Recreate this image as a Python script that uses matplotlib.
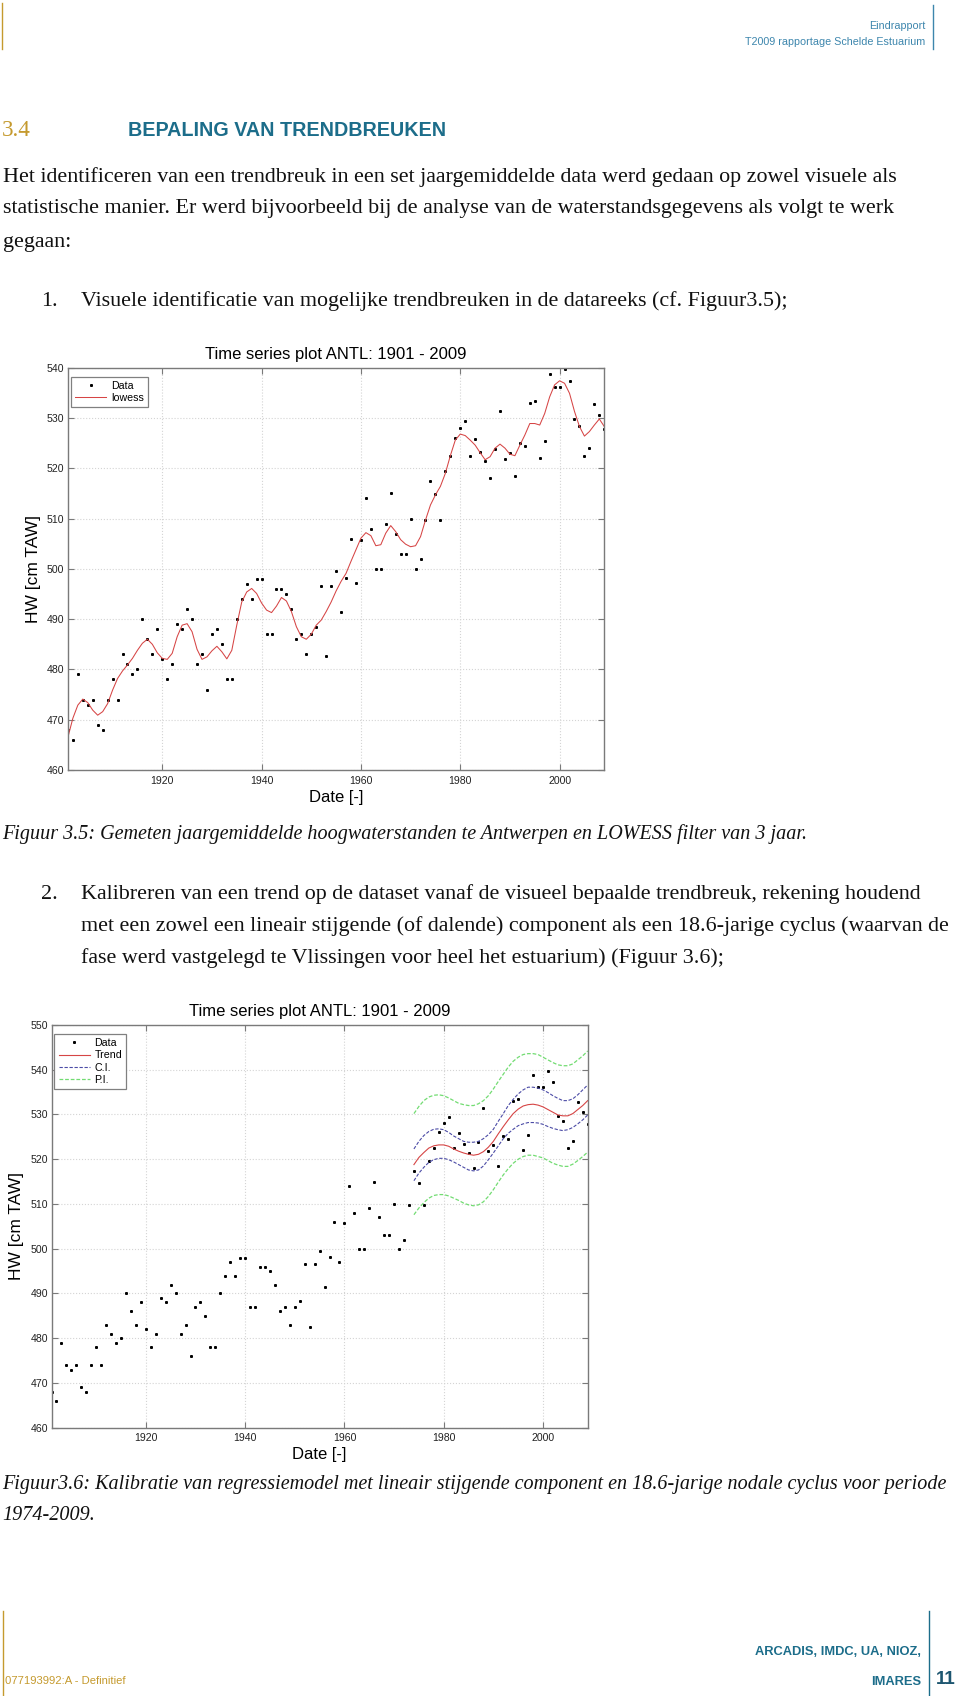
import matplotlib
matplotlib.use('Agg')
import matplotlib.pyplot as plt
from matplotlib.lines import Line2D

# ---------------- data ----------------
years = list(range(1901, 2010))
hw = [468.0, 466.0, 479.0, 474.0, 473.0, 474.0, 469.0, 468.0, 474.0, 478.0,
      474.0, 483.0, 481.0, 479.0, 480.0, 490.0, 486.0, 483.0, 488.0, 482.0,
      478.0, 481.0, 489.0, 488.0, 492.0, 490.0, 481.0, 483.0, 476.0, 487.0,
      488.0, 485.0, 478.0, 478.0, 490.0, 494.0, 497.0, 494.0, 498.0, 498.0,
      487.0, 487.0, 496.0, 496.0, 495.0, 492.0, 486.0, 487.0, 483.0, 487.0,
      488.4, 496.5, 482.6, 496.5, 499.6, 491.4, 498.1, 505.9, 497.1, 505.7,
      514.0, 507.9, 500.0, 500.0, 509.0, 515.0, 507.0, 503.0, 503.0, 510.0,
      500.0, 502.0, 509.7, 517.4, 514.8, 509.7, 519.5, 522.4, 526.1, 528.1,
      529.5, 522.5, 525.9, 523.3, 521.5, 518.1, 523.8, 531.4, 521.8, 523.1,
      518.5, 525.1, 524.5, 533.0, 533.4, 522.0, 525.5, 538.8, 536.1, 536.2,
      539.7, 537.3, 529.7, 528.5, 522.5, 524.0, 532.8, 530.6, 527.9]
lowess = [466.5, 470.3, 472.9, 474.1, 473.4, 471.9, 470.9, 471.6, 473.2, 475.9,
          478.2, 479.7, 480.9, 482.2, 483.8, 485.2, 486.0, 485.0, 483.3, 482.2,
          482.0, 483.2, 486.5, 488.8, 489.1, 487.5, 484.0, 482.0, 482.5, 483.7,
          484.6, 483.5, 482.1, 483.8, 488.8, 493.4, 495.4, 496.1, 495.1, 493.2,
          491.8, 491.3, 492.6, 494.3, 493.6, 491.5, 488.5, 486.5, 486.0, 487.0,
          488.8, 489.8, 491.5, 493.4, 495.6, 497.5, 499.1, 501.5, 503.8, 506.1,
          507.2, 506.6, 504.6, 504.8, 507.1, 508.6, 507.4, 505.8, 504.9, 504.4,
          504.6, 506.4, 509.7, 512.7, 514.7, 516.4, 519.0, 522.5, 525.6, 526.8,
          526.5, 525.6, 524.6, 523.1, 521.7, 522.3, 524.0, 524.8, 524.0, 522.8,
          522.5, 524.6, 526.6, 528.9, 528.9, 528.6, 530.9, 534.2, 536.6, 537.4,
          536.9, 534.9, 531.3, 528.3, 526.4, 527.3, 528.6, 529.8, 528.3]

trend_years = list(range(1974, 2010))
trend = [518.8, 520.4, 521.5, 522.5, 523.0, 523.2, 523.2, 522.9, 522.3, 521.8,
         521.4, 521.1, 520.9, 521.1, 521.7, 522.7, 524.0, 525.7, 527.3, 528.8,
         530.2, 531.2, 531.9, 532.2, 532.3, 532.1, 531.7, 531.1, 530.5, 529.9,
         529.7, 529.7, 530.2, 531.1, 532.0, 533.1]
ci_up = [522.3, 524.0, 525.3, 526.2, 526.7, 526.8, 526.6, 526.0, 525.2, 524.6,
         524.0, 523.8, 523.8, 524.0, 524.6, 525.5, 526.7, 528.5, 530.2, 532.0,
         533.4, 534.6, 535.5, 536.1, 536.1, 535.9, 535.5, 534.9, 534.2, 533.6,
         533.1, 533.1, 533.5, 534.4, 535.5, 536.6]
ci_lo = [515.2, 516.9, 518.2, 519.3, 519.9, 520.2, 520.2, 519.9, 519.4, 518.8,
         518.2, 517.6, 517.4, 517.6, 518.5, 519.9, 521.4, 523.0, 524.6, 525.8,
         526.7, 527.5, 527.9, 528.2, 528.2, 528.1, 527.8, 527.3, 526.9, 526.6,
         526.4, 526.6, 527.1, 527.9, 528.8, 529.9]
pi_up = [530.2, 531.8, 533.1, 533.9, 534.3, 534.4, 534.2, 533.7, 533.1, 532.5,
         532.2, 532.0, 532.0, 532.4, 533.1, 534.2, 535.7, 537.4, 539.0, 540.6,
         541.9, 542.8, 543.4, 543.6, 543.6, 543.4, 542.8, 542.2, 541.6, 541.1,
         540.9, 540.9, 541.3, 542.2, 543.1, 544.2]
pi_lo = [507.6, 509.1, 510.3, 511.3, 511.9, 512.1, 512.1, 511.8, 511.3, 510.8,
         510.2, 509.8, 509.6, 509.8, 510.5, 511.7, 513.2, 514.9, 516.5, 517.9,
         519.1, 520.0, 520.6, 520.9, 520.9, 520.6, 520.3, 519.7, 519.1, 518.7,
         518.4, 518.4, 518.9, 519.7, 520.6, 521.6]

xticks = [1920, 1940, 1960, 1980, 2000]
yticks1 = [460, 470, 480, 490, 500, 510, 520, 530, 540]
yticks2 = [460, 470, 480, 490, 500, 510, 520, 530, 540, 550]

# ---------------- page ----------------
plt.rcParams['font.family'] = ['Liberation Sans', 'DejaVu Sans']
W, H = 960, 1696
fig = plt.figure(figsize=(9.6, 16.96), dpi=100)
fig.patch.set_facecolor('white')
renderer = fig.canvas.get_renderer()

GOLD = '#c59a2e'
TEAL = '#1c6d8a'
LBLUE = '#3d86ad'
SERIF = ['Liberation Serif', 'DejaVu Serif']
SANS = ['Liberation Sans', 'DejaVu Sans']


def fx(x):
    return x / W


def fy(y):
    return 1 - y / H


def fit(s, target, base=12, **kw):
    t = fig.text(0, 0, s, fontsize=base, **kw)
    w = t.get_window_extent(renderer).width
    t.remove()
    return base * target / w


def vline(x, y0, y1, color, lw=1.0):
    fig.add_artist(Line2D([fx(x), fx(x)], [fy(y0), fy(y1)],
                          transform=fig.transFigure, color=color, lw=lw))


# header
vline(2, 3, 49, GOLD, 1.0)
vline(933, 5, 49, LBLUE, 1.0)
s = fit('T2009 rapportage Schelde Estuarium', 180, family=SANS)
fig.text(fx(925), fy(26), 'Eindrapport', fontsize=s, family=SANS, color=LBLUE,
         ha='right', va='center')
fig.text(fx(925), fy(42), 'T2009 rapportage Schelde Estuarium', fontsize=s,
         family=SANS, color=LBLUE, ha='right', va='center')

# heading
hs = fit('BEPALING VAN TRENDBREUKEN', 316, family=SANS, weight='bold')
fs34 = fit('3.4', 29, family=SERIF)
fig.text(fx(2), fy(130), '3.4', fontsize=fs34, family=SERIF, color=GOLD,
         va='center')
fig.text(fx(128), fy(130), 'BEPALING VAN TRENDBREUKEN', fontsize=hs,
         family=SANS, weight='bold', color=TEAL, va='center')

# body text
l1 = ('Het identificeren van een trendbreuk in een set jaargemiddelde data werd '
      'gedaan op zowel visuele als')
l5 = ('Kalibreren van een trend op de dataset vanaf de visueel bepaalde '
      'trendbreuk, rekening houdend')
l6 = ('met een zowel een lineair stijgende (of dalende) component als een '
      '18.6-jarige cyclus (waarvan de')
bs = min(fit(l1, 905, family=SERIF), fit(l5, 866, family=SERIF),
         fit(l6, 866, family=SERIF))
body = [(3, 177, l1),
        (3, 209, 'statistische manier. Er werd bijvoorbeeld bij de analyse van de '
                 'waterstandsgegevens als volgt te werk'),
        (3, 242, 'gegaan:'),
        (41, 301, '1.'),
        (81, 301, 'Visuele identificatie van mogelijke trendbreuken in de datareeks '
                  '(cf. Figuur3.5);'),
        (41, 894, '2.'),
        (81, 894, l5),
        (81, 926, l6),
        (81, 958, 'fase werd vastgelegd te Vlissingen voor heel het estuarium) '
                  '(Figuur 3.6);')]
for x, y, t in body:
    fig.text(fx(x), fy(y), t, fontsize=bs, family=SERIF, color='#111111',
             va='center')

c1 = ('Figuur 3.5: Gemeten jaargemiddelde hoogwaterstanden te Antwerpen en '
      'LOWESS filter van 3 jaar.')
c2 = ('Figuur3.6: Kalibratie van regressiemodel met lineair stijgende '
      'component en 18.6-jarige nodale cyclus voor periode')
cs = min(fit(c1, 822, family=SERIF, style='italic'),
         fit(c2, 945, family=SERIF, style='italic'))
caps = [(2, 834, c1), (2, 1484, c2), (2, 1515, '1974-2009.')]
for x, y, t in caps:
    fig.text(fx(x), fy(y), t, fontsize=cs, family=SERIF, style='italic',
             color='#111111', va='center')

# footer
vline(3, 1611, 1696, GOLD, 1.0)
vline(929, 1611, 1696, TEAL, 1.0)
fs = fit('077193992:A - Definitief', 121, family=SANS)
fig.text(fx(5), fy(1681), '077193992:A - Definitief', fontsize=fs, family=SANS,
         color=GOLD, va='center')
fb = fit('ARCADIS, IMDC, UA, NIOZ,', 166, family=SANS, weight='bold')
fig.text(fx(921), fy(1652), 'ARCADIS, IMDC, UA, NIOZ,', fontsize=fb, family=SANS,
         weight='bold', color=TEAL, ha='right', va='center')
fig.text(fx(921), fy(1682), 'IMARES', fontsize=fb, family=SANS, weight='bold',
         color=TEAL, ha='right', va='center')
fig.text(fx(936), fy(1680), '11', fontsize=fb * 1.45, family=SANS, weight='bold',
         color='#1d5670', ha='left', va='center')


# ---------------- charts ----------------
def make_axes(left, top, right, bottom):
    return fig.add_axes([fx(left), fy(bottom), (right - left) / W,
                         (bottom - top) / H])


def style(ax, ylim, yticks, xlab_y, height_px):
    ax.set_xlim(1901, 2009)
    ax.set_ylim(*ylim)
    ax.set_xticks(xticks)
    ax.set_yticks(yticks)
    ax.grid(True, color='#d4d4d4', ls=':', lw=0.8)
    for sp in ax.spines.values():
        sp.set_color('#7a7a7a')
        sp.set_linewidth(1.0)
    ax.tick_params(direction='in', length=4, width=0.8, color='#7a7a7a',
                   top=True, right=True, labelsize=7.6, labelcolor='#222222')
    ax.tick_params(axis='x', pad=4)
    ax.tick_params(axis='y', pad=2.5)
    ax.set_title('Time series plot ANTL: 1901 - 2009', fontsize=12,
                 family=SANS, pad=6.3)
    ax.set_ylabel('HW [cm TAW]', fontsize=12.5, family=SANS)
    ax.yaxis.label.set_va('center')
    ax.yaxis.set_label_coords(-0.065, 0.5)
    ax.set_xlabel('Date [-]', fontsize=12, family=SANS)
    ax.xaxis.label.set_va('center')
    ax.xaxis.set_label_coords(0.5, -(xlab_y) / height_px)


leg_kw = dict(loc='upper left', borderaxespad=0, fancybox=False,
              edgecolor='#808080', framealpha=1, fontsize=7.7,
              handlelength=2.9, handletextpad=0.45, borderpad=0.4,
              labelspacing=0.22)

MS = 1.15
RED = '#d64545'

# chart 1
ax1 = make_axes(67.9, 367.7, 604.3, 770.0)
ax1.plot(years, hw, ls='none', marker='s', ms=MS, color='black', label='Data')
ax1.plot(years, lowess, color=RED, lw=0.75, label='lowess')
style(ax1, (460, 540), yticks1, 27, 402.3)
lg1 = ax1.legend(bbox_to_anchor=(0.0056, 0.978), **leg_kw)
lg1.get_frame().set_linewidth(0.9)

# chart 2
ax2 = make_axes(51.5, 1025.0, 587.7, 1427.7)
ax2.plot(years, hw, ls='none', marker='s', ms=MS, color='black', label='Data')
ax2.plot(trend_years, trend, color=RED, lw=0.8, label='Trend')
ax2.plot(trend_years, ci_up, color='#4b4ba6', lw=0.8, ls=(0, (3, 1.5)),
         label='C.I.')
ax2.plot(trend_years, ci_lo, color='#4b4ba6', lw=0.8, ls=(0, (3, 1.5)))
ax2.plot(trend_years, pi_up, color='#72dc72', lw=0.9, ls=(0, (3, 1.5)),
         label='P.I.')
ax2.plot(trend_years, pi_lo, color='#72dc72', lw=0.9, ls=(0, (3, 1.5)))
style(ax2, (460, 550), yticks2, 27.3, 402.7)
lg2 = ax2.legend(bbox_to_anchor=(0.0052, 0.978), **leg_kw)
lg2.get_frame().set_linewidth(0.9)

fig.savefig('out.png', dpi=100, facecolor='white')
